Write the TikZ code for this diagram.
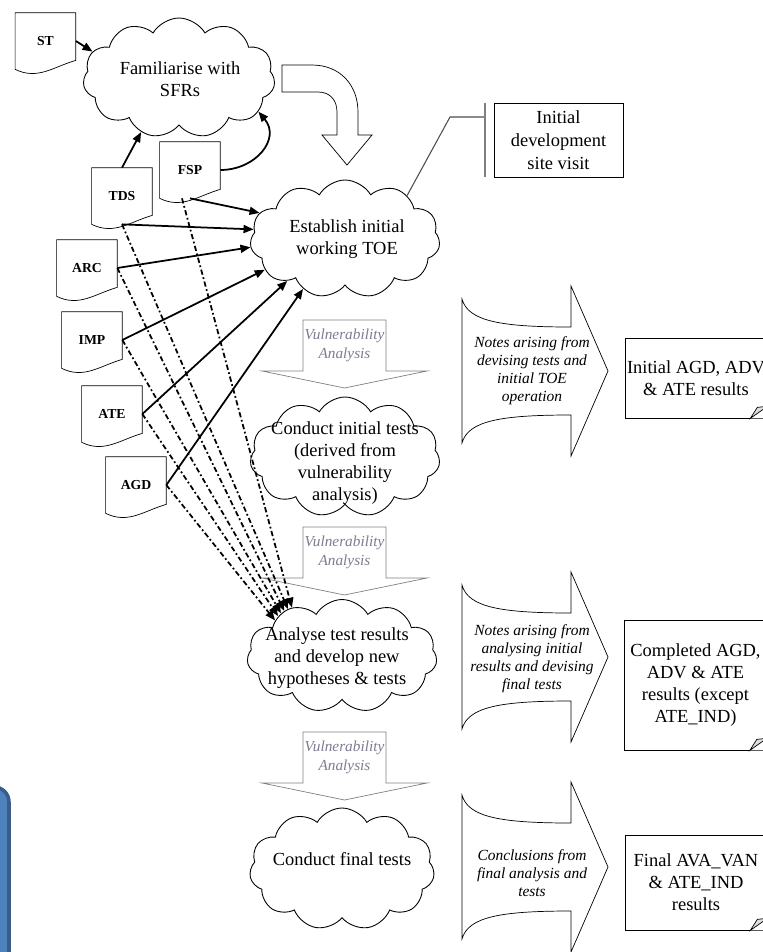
\documentclass[tikz,border=0pt]{standalone}
\usepackage{fontspec}
\setmainfont{Liberation Serif}
\usetikzlibrary{shapes.symbols,arrows.meta,calc}
\definecolor{vagray}{RGB}{125,125,145}
\definecolor{boxblue}{RGB}{79,129,189}
\definecolor{boxedge}{RGB}{56,93,138}

\begin{document}
\begin{tikzpicture}[scale=0.2]
  \tikzstyle{every node}+=[inner sep=0pt]
  \tikzstyle{doc}=[minimum width=1.2cm, minimum height=1.12cm, font=\fontsize{7.8}{9}\selectfont\bfseries]
  \tikzstyle{cloudy}=[cloud, cloud puffs=11, cloud puff arc=120, cloud ignores aspect, draw, fill=white, line width=0.5pt]
  \tikzstyle{cloudtext}=[align=center, font=\fontsize{10.5}{12.5}\selectfont]
  \tikzstyle{feed}=[line width=1pt, -{Triangle[length=2mm,width=1.6mm]}]
  \tikzstyle{later}=[feed, dash pattern=on 3pt off 1.5pt on 1pt off 1.5pt]
  \tikzstyle{va}=[align=center, text=vagray, font=\fontsize{8.7}{10.8}\selectfont\itshape]
  \tikzstyle{notes}=[align=center, font=\fontsize{8.8}{10.2}\selectfont\itshape]
  \tikzstyle{result}=[draw, align=center, minimum width=2.84cm, font=\fontsize{10.5}{12.5}\selectfont]

  \useasboundingbox (0,0) rectangle (76.3,-95.2);

  % blue box at the page edge
  \draw[boxedge, fill=boxblue, line width=2pt, rounded corners=0.3cm] (-10,-78.7) rectangle (0.9,-100);

  % documents
  \node[doc] (st) at (4.55,-4.1) {ST};
  \node[doc] (tds) at (12.2,-19.6) {TDS};
  \node[doc] (fsp) at (19.0,-17.0) {FSP};
  \node[doc] (arc) at (8.7,-26.8) {ARC};
  \node[doc] (imp) at (9.2,-34.0) {IMP};
  \node[doc] (ate) at (11.2,-41.4) {ATE};
  \node[doc] (agd) at (13.6,-48.5) {AGD};
  \foreach \d in {st,tds,fsp,arc,imp,ate,agd}
    \draw (\d.south west) -- (\d.north west) -- (\d.north east) -- ($(\d.south east)+(0,0.9)$)
      .. controls ($(\d.south east)+(-2.25,0.25)$) and ($(\d.south west)+(2.25,-1.1)$) .. (\d.south west) -- cycle;

  % bent arrow
  \draw[fill=white] (28.2,-6.5) -- (31.2,-6.5) .. controls (34,-6.5) and (35.8,-8.5) .. (35.8,-11.2) -- (35.8,-13.5)
    -- (37.2,-13.5) -- (34.7,-16.5) -- (32.2,-13.5) -- (33.7,-13.5) -- (33.7,-11.2)
    .. controls (33.7,-10) and (33,-9.2) .. (31.8,-9.2) -- (28.2,-9.2) -- cycle;

  % vulnerability analysis
  \draw[gray, fill=white] (30.3,-32.0) -- (38.6,-32.0) -- (38.6,-37.1) -- (42.7,-37.1) -- (34.45,-38.8) -- (26.2,-37.1) -- (30.3,-37.1) -- cycle;
  \node[va] (va1) at (34.45,-34.5) {Vulnerability\\Analysis};
  \draw[gray, fill=white] (30.3,-52.7) -- (38.6,-52.7) -- (38.6,-57.8) -- (42.7,-57.8) -- (34.45,-59.5) -- (26.2,-57.8) -- (30.3,-57.8) -- cycle;
  \node[va] (va2) at (34.45,-55.2) {Vulnerability\\Analysis};
  \draw[gray, fill=white] (30.3,-73.2) -- (38.6,-73.2) -- (38.6,-78.3) -- (42.7,-78.3) -- (34.45,-80.0) -- (26.2,-78.3) -- (30.3,-78.3) -- cycle;
  \node[va] (va3) at (34.45,-75.7) {Vulnerability\\Analysis};

  % clouds
  \node[cloudy, minimum width=3.84cm, minimum height=2.4cm] (familiarise) at (17.9,-7.8) {};
  \node[cloudtext] (familiarise-t) at (18.0,-7.9) {Familiarise with\\SFRs};
  \node[cloudy, minimum width=3.8cm, minimum height=2.36cm] (establish) at (34.5,-23.9) {};
  \node[cloudtext] (establish-t) at (34.7,-23.9) {Establish initial\\working TOE};
  \node[cloudy, minimum width=3.8cm, minimum height=2.4cm] (initial) at (34.5,-45.7) {};
  \node[cloudtext] (initial-t) at (34.5,-46.3) {Conduct initial tests\\(derived from\\vulnerability\\analysis)};
  \node[cloudy, minimum width=3.8cm, minimum height=2.26cm] (analyse) at (34.2,-65.6) {};
  \node[cloudtext] (analyse-t) at (33.7,-65.8) {Analyse test results\\and develop new\\hypotheses \& tests};
  \node[cloudy, minimum width=3.7cm, minimum height=2.44cm] (final) at (34.2,-86.9) {};
  \node[cloudtext] (final-t) at (34.2,-85.9) {Conduct final tests};

  % site visit
  \node[draw, align=center, minimum width=2.58cm, minimum height=1.48cm, font=\fontsize{10.5}{13}\selectfont] (visit) at (55.85,-14.0) {Initial\\development\\site visit};
  \coordinate (elbow) at (45.0,-11.7);
  \coordinate (tick) at (48.5,-11.7);
  \draw[gray!60!black, line width=0.6pt] (establish.35) -- (elbow) -- (tick);
  \draw[gray, line width=1pt] ($(visit.north west)+(-0.9,0)$) -- ($(visit.south west)+(-0.9,0)$);

  % notes arrows
  \draw[fill=white] (46.2,-29.9) .. controls (46.8,-32.1) and (50,-32.7) .. (57.1,-32.7) -- (57.1,-28.6) -- (60.8,-37.1)
    -- (57.1,-45.6) -- (57.1,-41.5) .. controls (50,-41.5) and (46.8,-42.1) .. (46.2,-44.3) -- cycle;
  \node[notes] (notes1) at (53.2,-37.1) {Notes arising from\\devising tests and\\initial TOE\\operation};
  \draw[fill=white] (46.2,-58.5) .. controls (46.8,-60.7) and (50,-61.3) .. (57.1,-61.3) -- (57.1,-57.2) -- (60.8,-65.7)
    -- (57.1,-74.2) -- (57.1,-70.1) .. controls (50,-70.1) and (46.8,-70.7) .. (46.2,-72.9) -- cycle;
  \node[notes] (notes2) at (53.2,-65.9) {Notes arising from\\analysing initial\\results and devising\\final tests};
  \draw[fill=white] (46.2,-79.5) .. controls (46.8,-81.7) and (50,-82.3) .. (57.1,-82.3) -- (57.1,-78.2) -- (60.8,-86.7)
    -- (57.1,-95.2) -- (57.1,-91.1) .. controls (50,-91.1) and (46.8,-91.7) .. (46.2,-93.9) -- cycle;
  \node[notes] (notes3) at (53.2,-87.3) {Conclusions from\\final analysis and\\tests};

  % results
  \node[result, minimum height=1.6cm] (res1) at (69.6,-37.8) {Initial AGD, ADV\\\& ATE results};
  \node[result, minimum height=2.6cm] (res2) at (69.55,-68.5) {Completed AGD,\\ADV \& ATE\\results (except\\ATE\_IND)};
  \node[result, minimum height=1.9cm] (res3) at (69.6,-88.25) {Final AVA\_VAN\\\& ATE\_IND\\results};
  \foreach \r in {res1,res2,res3} {
    \fill[white] ($(\r.south east)+(-1.7,0)$) -- (\r.south east) -- ($(\r.south east)+(0,1.2)$) -- cycle;
    \draw[fill=gray!25] ($(\r.south east)+(-1.7,0)$) -- ($(\r.south east)+(-1.0,1.1)$) -- ($(\r.south east)+(0,1.2)$) -- cycle;
  }

  % inputs
  \draw[feed] (st.east) -- (familiarise.163);
  \draw[feed] (tds.north) -- (familiarise.235);
  \draw[feed] (fsp.east) to[out=0, in=-50, looseness=1.3] (familiarise.337);
  \draw[feed] (fsp.south) -- (establish.163);
  \draw[feed] (tds.south) -- (establish.174);
  \draw[feed] (arc.east) -- (establish.185);
  \draw[feed] (imp.east) -- (establish.201);
  \draw[feed] (ate.east) -- (establish.216);
  \draw[feed] (agd.east) -- (establish.230);
  \draw[later] ($(fsp.south)+(-0.8,0)$) -- (analyse.136);
  \draw[later] (tds.south) -- (analyse.139);
  \draw[later] (arc.east) -- (analyse.142);
  \draw[later] (imp.east) -- (analyse.145);
  \draw[later] (ate.east) -- (analyse.148);
  \draw[later] (agd.east) -- (analyse.152);
\end{tikzpicture}
\end{document}
